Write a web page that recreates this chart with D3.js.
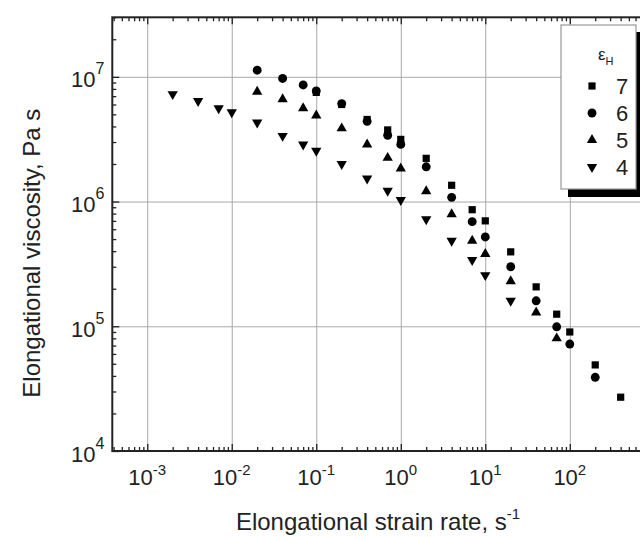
<!DOCTYPE html>
<html>
<head>
<meta charset="utf-8">
<script src="https://cdn.jsdelivr.net/npm/d3@7"></script>
<style>
  body { margin: 0; background: #fff; }
  svg { display: block; font-family: "Liberation Sans", Arial, sans-serif; }
</style>
</head>
<body>
<svg id="chart" width="640" height="537"></svg>
<script>
// data (strain rate in 1/s, viscosity in Pa s)
const rates7 = [0.1, 0.2, 0.4, 0.7, 1, 2, 4, 7, 10, 20, 40, 70, 100, 200, 400];
const eta7 = [7.5e6, 6.0e6, 4.55e6, 3.75e6, 3.15e6, 2.22e6, 1.35e6, 8.6e5, 7.0e5, 3.95e5, 2.07e5, 1.25e5, 9.0e4, 4.9e4, 2.7e4];

const rates6 = [0.02, 0.04, 0.07, 0.1, 0.2, 0.4, 0.7, 1, 2, 4, 7, 10, 20, 40, 70, 100, 200];
const eta6 = [1.13e7, 9.7e6, 8.6e6, 7.7e6, 6.1e6, 4.4e6, 3.4e6, 2.87e6, 1.9e6, 1.08e6, 6.9e5, 5.2e5, 3.0e5, 1.6e5, 9.9e4, 7.2e4, 3.9e4];

const rates5 = [0.02, 0.04, 0.07, 0.1, 0.2, 0.4, 0.7, 1, 2, 4, 7, 10, 20, 40, 70];
const eta5 = [7.6e6, 6.6e6, 5.6e6, 4.9e6, 3.86e6, 2.87e6, 2.24e6, 1.84e6, 1.21e6, 7.9e5, 4.85e5, 3.8e5, 2.3e5, 1.29e5, 8.0e4];

const rates4 = [0.002, 0.004, 0.007, 0.01, 0.02, 0.04, 0.07, 0.1, 0.2, 0.4, 0.7, 1, 2, 4, 7, 10, 20];
const eta4 = [7.26e6, 6.4e6, 5.6e6, 5.2e6, 4.3e6, 3.36e6, 2.87e6, 2.55e6, 2.0e6, 1.53e6, 1.22e6, 1.03e6, 7.2e5, 4.85e5, 3.4e5, 2.57e5, 1.6e5];

const seriesNames = ["7", "6", "5", "4"];
const xDecades = [-3, -2, -1, 0, 1, 2, 3];
const yDecades = [4, 5, 6, 7];
const xTitle = "Elongational strain rate, s";
const yTitle = "Elongational viscosity, Pa s";

const series = [
  { name: seriesNames[0], x: rates7, y: eta7, shape: "square" },
  { name: seriesNames[1], x: rates6, y: eta6, shape: "circle" },
  { name: seriesNames[2], x: rates5, y: eta5, shape: "up" },
  { name: seriesNames[3], x: rates4, y: eta4, shape: "down" }
];

const margins = { top: 17.3, left: 112.3, bottom: 451 };
const plotRight = 654.3;

const svg = d3.select("#chart");

const x = d3.scaleLog().domain([3.86e-4, 1e3]).range([margins.left, plotRight]);
const y = d3.scaleLog().domain([1e4, 3e7]).range([margins.bottom, margins.top]);

const innerW = plotRight - margins.left;
const innerH = margins.bottom - margins.top;

//* grid
svg.append("g")
  .attr("transform", `translate(0,${margins.bottom})`)
  .call(d3.axisBottom(x).tickValues(xDecades.map(d => Math.pow(10, d))).tickSize(-innerH).tickFormat(""))
  .call(g => g.select(".domain").remove())
  .selectAll("line").attr("stroke", "#a8a8a8").attr("stroke-width", 1);

svg.append("g")
  .attr("transform", `translate(${margins.left},0)`)
  .call(d3.axisLeft(y).tickValues(yDecades.map(d => Math.pow(10, d))).tickSize(-innerW).tickFormat(""))
  .call(g => g.select(".domain").remove())
  .selectAll("line").attr("stroke", "#a8a8a8").attr("stroke-width", 1);

//* inward ticks
const isDecade = v => Math.abs(Math.log10(v) - Math.round(Math.log10(v))) < 1e-6;
const xMinor = x.ticks().filter(v => !isDecade(v));
const yMinor = y.ticks().filter(v => !isDecade(v));
const xMajor = xDecades.map(d => Math.pow(10, d));
const yMajor = yDecades.map(d => Math.pow(10, d));

function tickGroup(axis, transform) {
  svg.append("g")
    .attr("transform", transform)
    .call(axis.tickFormat(""))
    .call(g => g.select(".domain").remove())
    .selectAll("line").attr("stroke", "#222").attr("stroke-width", 1.3);
}
tickGroup(d3.axisBottom(x).tickValues(xMinor).tickSize(-4), `translate(0,${margins.bottom})`);
tickGroup(d3.axisBottom(x).tickValues(xMajor).tickSize(-7), `translate(0,${margins.bottom})`);
tickGroup(d3.axisTop(x).tickValues(xMinor).tickSize(-4), `translate(0,${margins.top})`);
tickGroup(d3.axisTop(x).tickValues(xMajor).tickSize(-7), `translate(0,${margins.top})`);
tickGroup(d3.axisLeft(y).tickValues(yMinor).tickSize(-4), `translate(${margins.left},0)`);
tickGroup(d3.axisLeft(y).tickValues(yMajor).tickSize(-7), `translate(${margins.left},0)`);

//* frame
svg.append("rect")
  .attr("x", margins.left).attr("y", margins.top)
  .attr("width", innerW).attr("height", innerH)
  .attr("fill", "none").attr("stroke", "#222").attr("stroke-width", 2);

//* tick labels
const xLab = svg.append("g").selectAll("text")
  .data(xDecades.filter(d => d <= 2))
  .join("text")
  .attr("x", d => x(Math.pow(10, d)))
  .attr("y", 485)
  .attr("text-anchor", "middle")
  .attr("fill", "#222")
  .attr("font-size", 22);
xLab.append("tspan").text("10");
xLab.append("tspan").attr("dy", -10).attr("font-size", 15).text(d => d < 0 ? "-" + (-d) : d);

const yLab = svg.append("g").selectAll("text")
  .data(yDecades)
  .join("text")
  .attr("x", margins.left - 8)
  .attr("y", d => y(Math.pow(10, d)) + 10.5)
  .attr("text-anchor", "end")
  .attr("fill", "#222")
  .attr("font-size", 22);
yLab.append("tspan").text("10");
yLab.append("tspan").attr("dy", -13).attr("font-size", 16).text(d => d);

//* axis titles
const xt = svg.append("text")
  .attr("x", 378).attr("y", 530)
  .attr("text-anchor", "middle")
  .attr("fill", "#222")
  .attr("font-size", 24);
xt.append("tspan").text(xTitle);
xt.append("tspan").attr("dy", -11).attr("font-size", 15).text("-1");

svg.append("text")
  .attr("transform", `translate(40,${(margins.top + margins.bottom) / 2 + 19}) rotate(-90)`)
  .attr("text-anchor", "middle")
  .attr("fill", "#222")
  .attr("font-size", 24)
  .text(yTitle);

//* markers
const symbolFor = {
  square: d3.symbol().type(d3.symbolSquare).size(52),
  circle: d3.symbol().type(d3.symbolCircle).size(62),
  up: d3.symbol().type(d3.symbolTriangle).size(46),
  down: d3.symbol().type(d3.symbolTriangle).size(46)
};

series.forEach(s => {
  svg.append("g").selectAll("path")
    .data(s.x.map((v, i) => ({ x: v, y: s.y[i] })))
    .join("path")
    .attr("d", symbolFor[s.shape]())
    .attr("transform", d => `translate(${x(d.x)},${y(d.y)})${s.shape === "down" ? " rotate(180)" : ""}`)
    .attr("fill", "#000");
});

//* legend
const legend = svg.append("g");
legend.append("rect")
  .attr("x", 568).attr("y", 32).attr("width", 76).attr("height", 165)
  .attr("fill", "#000");
legend.append("rect")
  .attr("x", 561).attr("y", 25).attr("width", 75).attr("height", 164)
  .attr("fill", "#fff").attr("stroke", "#999").attr("stroke-width", 1.2);

const lt = legend.append("text")
  .attr("x", 598).attr("y", 60)
  .attr("fill", "#222")
  .attr("font-size", 17);
lt.append("tspan").text("ε");
lt.append("tspan").attr("dy", 5).attr("font-size", 11).text("H");

const rowY = d3.scalePoint().domain(seriesNames).range([86, 167]);
const rows = legend.selectAll(".legend-row")
  .data(series)
  .join("g")
  .attr("class", "legend-row")
  .attr("transform", d => `translate(592,${rowY(d.name)})`);
rows.append("path")
  .attr("d", d => symbolFor[d.shape]())
  .attr("transform", d => d.shape === "down" ? "rotate(180)" : null)
  .attr("fill", "#000");
rows.append("text")
  .attr("x", 24).attr("y", 8)
  .attr("fill", "#222")
  .attr("font-size", 22)
  .text(d => d.name);
</script>
</body>
</html>
